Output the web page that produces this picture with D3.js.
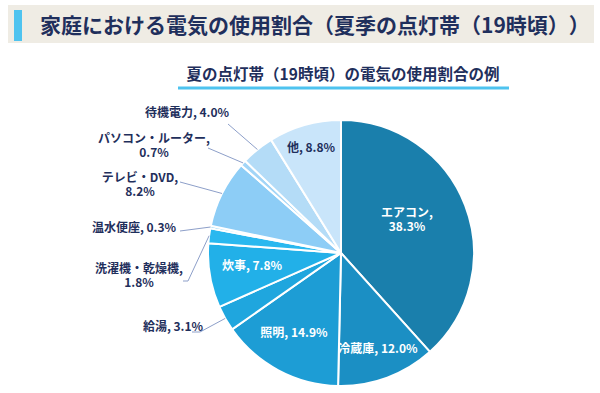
<!DOCTYPE html>
<html>
<head>
<meta charset="utf-8">
<script src="https://cdn.jsdelivr.net/npm/d3@7"></script>
<style>
  html, body { margin: 0; padding: 0; background: #fff; }
  svg { display: block; font-family: "Noto Sans CJK JP", "Noto Sans", sans-serif; text-spacing-trim: space-all; }
</style>
</head>
<body>
<div id="chart"></div>
<script>
// Data
const categories = ['エアコン', '冷蔵庫', '照明', '給湯', '炊事', '洗濯機・乾燥機', '温水便座', 'テレビ・DVD', 'パソコン・ルーター', '待機電力', '他'];
const values = [38.3, 12.0, 14.9, 3.1, 7.8, 1.8, 0.3, 8.2, 0.7, 4.0, 8.8];
const title = '家庭における電気の使用割合（夏季の点灯帯（19時頃））';
const subtitle = '夏の点灯帯（19時頃）の電気の使用割合の例';

// Styles
const colors = ['#1a7fac', '#1b8fc4', '#1d9dd5', '#1fa6de', '#22b0e8', '#2ab8ef', '#64c6f2', '#8dcdf6', '#a2d5f7', '#b4dcf7', '#c9e5fa'];
const navy = '#1f2f5c';
const accent = '#4ec3ef';

// Label layout (text lines, anchor x, first baseline y, leader start points)
const labelLayout = [
    { lines: ['エアコン,', '38.3%'], x: 407, y: 217, inside: true },
    { lines: ['冷蔵庫, 12.0%'], x: 378, y: 353, inside: true },
    { lines: ['照明, 14.9%'], x: 294, y: 337, inside: true },
    { lines: ['給湯, 3.1%'], x: 173, y: 331, leader: [[192, 332], [200, 332]] },
    { lines: ['炊事, 7.8%'], x: 252, y: 270, inside: true },
    { lines: ['洗濯機・乾燥機,', '1.8%'], x: 139, y: 273, leader: [[183, 281], [188, 281]] },
    { lines: ['温水便座, 0.3%'], x: 134, y: 232, leader: [[180, 231]] },
    { lines: ['テレビ・DVD,', '8.2%'], x: 140, y: 182, leader: [[180, 182]] },
    { lines: ['パソコン・ルーター,', '0.7%'], x: 154, y: 143, leader: [[208, 148]] },
    { lines: ['待機電力, 4.0%'], x: 187, y: 117, leader: [[228, 124]] },
    { lines: ['他, 8.8%'], x: 311, y: 152, inside: true, dark: true }
];

const width = 600, height = 393;
const cx = 341, cy = 253, radius = 133;

const svg = d3.select('#chart').append('svg')
    .attr('width', width)
    .attr('height', height);

// Header
svg.append('rect')
    .attr('x', 8).attr('y', 5)
    .attr('width', 586).attr('height', 38)
    .attr('fill', '#efece4');
svg.append('rect')
    .attr('x', 14).attr('y', 10)
    .attr('width', 8).attr('height', 31)
    .attr('fill', accent);
svg.append('text')
    .attr('x', 40).attr('y', 33)
    .attr('fill', navy)
    .attr('font-size', 21)
    .attr('font-weight', 700)
    .text(title);

// Subtitle
svg.append('text')
    .attr('x', 343).attr('y', 80)
    .attr('text-anchor', 'middle')
    .attr('fill', navy)
    .attr('font-size', 15.5)
    .attr('font-weight', 700)
    .text(subtitle);
svg.append('rect')
    .attr('x', 178).attr('y', 86.5)
    .attr('width', 331).attr('height', 3)
    .attr('fill', accent);

// Pie
const pie = d3.pie().sort(null).value(d => d);
const arcs = pie(values);
const arc = d3.arc().innerRadius(0).outerRadius(radius);

const g = svg.append('g').attr('transform', `translate(${cx},${cy})`);
g.selectAll('path')
    .data(arcs)
    .enter().append('path')
    .attr('d', arc)
    .attr('fill', (d, i) => colors[i])
    .attr('stroke', '#fff')
    .attr('stroke-width', 2)
    .attr('stroke-linejoin', 'round');

// Leader lines: from label to the outer edge at the slice's middle angle
const edgePoint = d => {
    const a = (d.startAngle + d.endAngle) / 2;
    return [cx + radius * Math.sin(a), cy - radius * Math.cos(a)];
};
const line = d3.line();
labelLayout.forEach((l, i) => {
    if (!l.leader) return;
    svg.append('path')
        .attr('d', line([...l.leader, edgePoint(arcs[i])]))
        .attr('fill', 'none')
        .attr('stroke', '#8d9fc9')
        .attr('stroke-width', 1);
});

// Labels
labelLayout.forEach(l => {
    const t = svg.append('text')
        .attr('text-anchor', 'middle')
        .attr('font-size', 12)
        .attr('font-weight', 700)
        .attr('fill', l.inside && !l.dark ? '#fff' : navy);
    l.lines.forEach((s, j) => {
        t.append('tspan')
            .attr('x', l.x)
            .attr('y', l.y + j * 13.5)
            .text(s);
    });
});
</script>
</body>
</html>
